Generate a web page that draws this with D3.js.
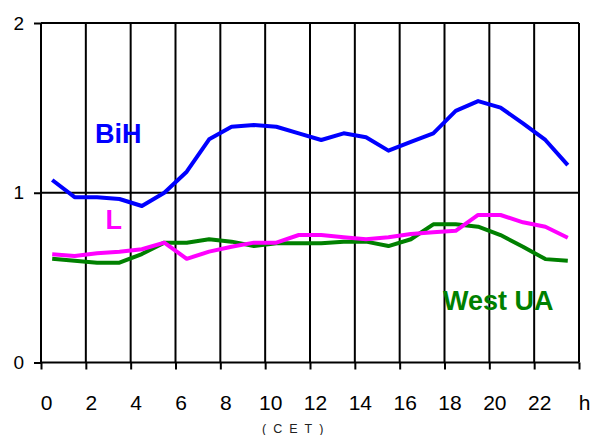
<!DOCTYPE html>
<html>
<head>
<meta charset="utf-8">
<script src="https://cdn.jsdelivr.net/npm/d3@7"></script>
<style>
  body { margin: 0; background: #fff; }
  text { font-family: "Liberation Sans", Arial, sans-serif; }
</style>
</head>
<body>
<svg class="chart"></svg>
<script>
// hours of the day (CET)
var hours = [0,1,2,3,4,5,6,7,8,9,10,11,12,13,14,15,16,17,18,19,20,21,22,23];

var bih = [1.075,0.974,0.974,0.963,0.922,1.0,1.124,1.315,1.389,1.399,1.389,1.35,
           1.311,1.35,1.327,1.248,1.30,1.35,1.482,1.54,1.501,1.409,1.311,1.163];
var lSeries = [0.637,0.627,0.643,0.653,0.667,0.706,0.611,0.653,0.682,0.706,0.706,0.751,
           0.751,0.738,0.726,0.738,0.757,0.767,0.776,0.869,0.869,0.826,0.80,0.735];
var westUA = [0.611,0.600,0.588,0.588,0.639,0.706,0.706,0.726,0.712,0.686,0.702,0.702,
           0.702,0.712,0.712,0.686,0.726,0.814,0.814,0.80,0.751,0.682,0.609,0.600];

var xTicks = [0,2,4,6,8,10,12,14,16,18,20,22,24];
var yTicks = [0,1,2];

var width = 608, height = 435;
var plotLeft = 41, plotRight = 579, plotTop = 23, plotBottom = 362.5;

var svg = d3.select(".chart")
	.attr("width", width)
	.attr("height", height);

var x = d3.scaleBand()
	.domain(hours)
	.range([plotLeft, plotRight]);

// continuous hour scale for grid lines and ticks
var xh = d3.scaleLinear()
	.domain([0, 24])
	.range([plotLeft, plotRight]);

var y = d3.scaleLinear()
	.domain([0, 2])
	.range([plotBottom, plotTop]);

// grid
svg.append("g").selectAll("line")
	.data(xTicks)
	.enter().append("line")
	.attr("x1", xh).attr("x2", xh)
	.attr("y1", y(0)).attr("y2", y(2))
	.attr("stroke", "#000")
	.attr("stroke-width", 2);

svg.append("g").selectAll("line")
	.data(yTicks)
	.enter().append("line")
	.attr("x1", plotLeft).attr("x2", plotRight)
	.attr("y1", y).attr("y2", y)
	.attr("stroke", "#000")
	.attr("stroke-width", 2);

// axes
var xAxis = svg.append("g")
	.attr("transform", "translate(0," + y(0) + ")")
	.call(d3.axisBottom(xh)
		.tickValues(xTicks)
		.tickFormat(function(d) { return d == 24 ? "h" : d; })
		.tickSize(7)
		.tickSizeOuter(0)
		.tickPadding(25.5));
xAxis.select(".domain").remove();
xAxis.selectAll("line").attr("stroke-width", 2);
xAxis.selectAll("text")
	.attr("dx", 5)
	.style("font-size", "21px")
	.attr("fill", "#000");

var yAxis = svg.append("g")
	.attr("transform", "translate(" + plotLeft + ",0)")
	.call(d3.axisLeft(y)
		.tickValues(yTicks)
		.tickFormat(d3.format("d"))
		.tickSize(7)
		.tickSizeOuter(0)
		.tickPadding(10));
yAxis.select(".domain").remove();
yAxis.selectAll("line").attr("stroke-width", 2);
yAxis.selectAll("text")
	.style("font-size", "19px")
	.attr("fill", "#000");

svg.append("text")
	.attr("x", 262)
	.attr("y", 433)
	.style("font-size", "12.5px")
	.style("letter-spacing", "7px")
	.attr("fill", "#222")
	.text("(CET)");

// series
var line = d3.line()
	.x(function(d, i) { return x(hours[i]) + x.bandwidth() / 2; })
	.y(function(d) { return y(d); });

var series = [
	{ values: bih, color: "#0000ff" },
	{ values: westUA, color: "#008000" },
	{ values: lSeries, color: "#ff00ff" }
];

svg.append("g").selectAll("path")
	.data(series)
	.enter().append("path")
	.attr("d", function(d) { return line(d.values); })
	.attr("fill", "none")
	.attr("stroke", function(d) { return d.color; })
	.attr("stroke-width", 4)
	.attr("stroke-linejoin", "round");

// series labels
var labels = [
	{ name: "BiH", color: "#0000ff", x: 95, y: 142.7 },
	{ name: "L", color: "#ff00ff", x: 105.5, y: 229.3 },
	{ name: "West UA", color: "#008000", x: 443, y: 310 }
];

svg.append("g").selectAll("text")
	.data(labels)
	.enter().append("text")
	.attr("x", function(d) { return d.x; })
	.attr("y", function(d) { return d.y; })
	.attr("fill", function(d) { return d.color; })
	.style("font-size", "27px")
	.style("font-weight", "bold")
	.text(function(d) { return d.name; });
</script>
</body>
</html>
